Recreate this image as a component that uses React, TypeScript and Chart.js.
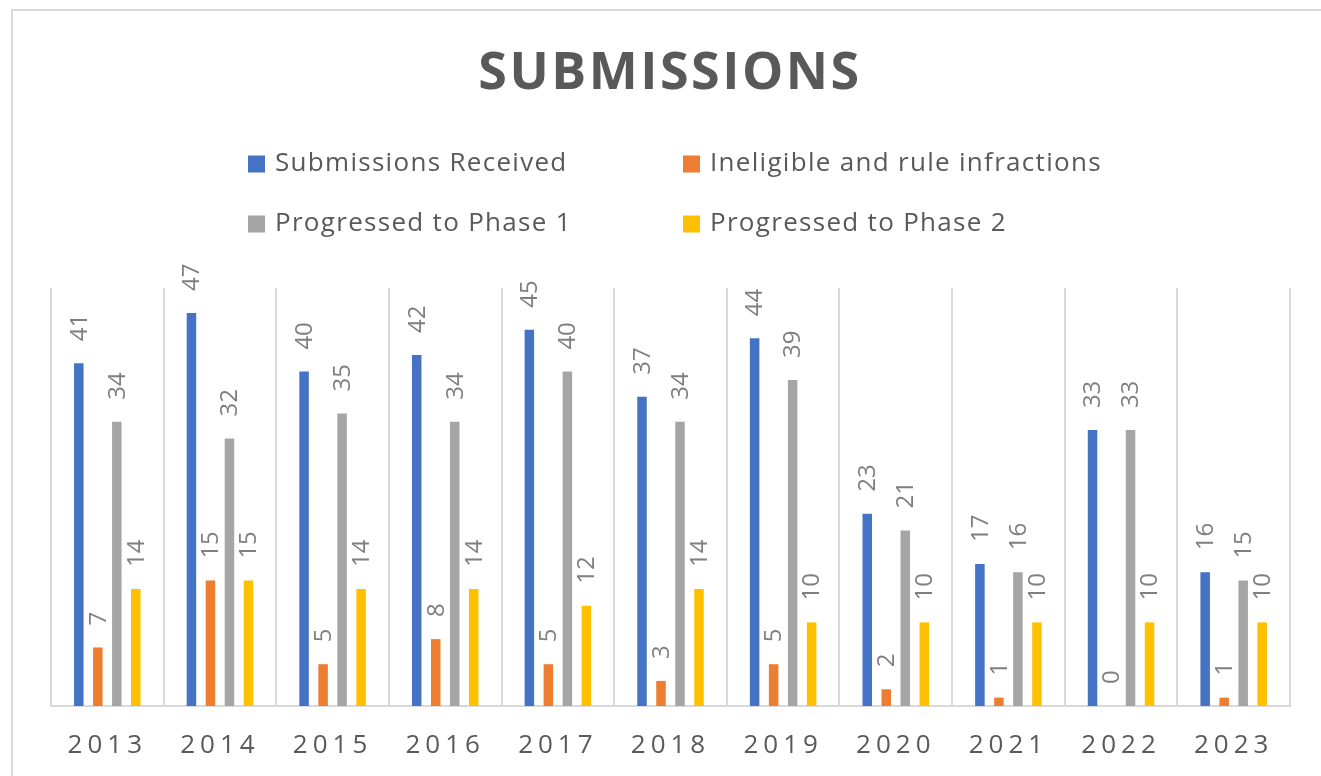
import React, { useEffect, useRef } from "react";
import { Chart, registerables } from "chart.js";

Chart.register(...registerables);

const TITLE = "SUBMISSIONS";
const years = ["2013", "2014", "2015", "2016", "2017", "2018", "2019", "2020", "2021", "2022", "2023"];
const submissionsReceived = [41, 47, 40, 42, 45, 37, 44, 23, 17, 33, 16];
const ineligible = [7, 15, 5, 8, 5, 3, 5, 2, 1, 0, 1];
const phase1 = [34, 32, 35, 34, 40, 34, 39, 21, 16, 33, 15];
const phase2 = [14, 15, 14, 14, 12, 14, 10, 10, 10, 10, 10];
const seriesNames = [
  "Submissions Received",
  "Ineligible and rule infractions",
  "Progressed to Phase 1",
  "Progressed to Phase 2",
];
const seriesColors = ["#4472C4", "#ED7D31", "#A5A5A5", "#FFC000"];

const FONT = "'Open Sans', 'Noto Sans', sans-serif";

const framePlugin = {
  id: "frame",
  beforeDraw(chart: any) {
    const ctx = chart.ctx;
    ctx.save();
    ctx.fillStyle = "#ffffff";
    ctx.fillRect(0, 0, chart.width, chart.height);
    ctx.strokeStyle = "#d9d9d9";
    ctx.lineWidth = 2;
    ctx.strokeRect(12, 10, chart.width + 100, chart.height + 100);
    ctx.restore();
    // letter spacing for the category axis labels
    (ctx as any).letterSpacing = "5px";
  },
  beforeDatasetsDraw(chart: any) {
    (chart.ctx as any).letterSpacing = "0px";
  },
  afterDatasetsDraw(chart: any) {
    const ctx = chart.ctx;
    ctx.save();
    ctx.font = `24px ${FONT}`;
    ctx.fillStyle = "#7f7f7f";
    ctx.textAlign = "left";
    ctx.textBaseline = "middle";
    chart.data.datasets.forEach((ds: any, di: number) => {
      const meta = chart.getDatasetMeta(di);
      meta.data.forEach((bar: any, i: number) => {
        ctx.save();
        ctx.translate(bar.x + 1, bar.y - 22);
        ctx.rotate(-Math.PI / 2);
        ctx.fillText(String(ds.data[i]), 0, 0);
        ctx.restore();
      });
    });
    ctx.restore();
  },
  afterDraw(chart: any) {
    const ctx = chart.ctx;
    ctx.save();
    // title
    ctx.fillStyle = "#595959";
    ctx.font = `bold 52px ${FONT}`;
    (ctx as any).letterSpacing = "2.5px";
    ctx.textAlign = "center";
    ctx.textBaseline = "middle";
    ctx.fillText(TITLE, 670, 74);
    // legend
    (ctx as any).letterSpacing = "1.3px";
    ctx.font = `26px ${FONT}`;
    ctx.textAlign = "left";
    const cols = [248, 683];
    const rows = [164, 224];
    chart.data.datasets.forEach((ds: any, i: number) => {
      const x = cols[i % 2];
      const y = rows[Math.floor(i / 2)];
      ctx.fillStyle = ds.backgroundColor;
      ctx.fillRect(x, y - 8.5, 17, 17);
      ctx.fillStyle = "#595959";
      ctx.fillText(ds.label, x + 27, y);
    });
    (ctx as any).letterSpacing = "0px";
    ctx.restore();
  },
};

export default function App() {
  const ref = useRef<HTMLCanvasElement | null>(null);
  useEffect(() => {
    if (!ref.current) return;
    const seriesData = [submissionsReceived, ineligible, phase1, phase2];
    const chart = new Chart(ref.current, {
      type: "bar",
      data: {
        labels: years,
        datasets: seriesData.map((d, i) => ({
          label: seriesNames[i],
          data: d,
          backgroundColor: seriesColors[i],
          categoryPercentage: 0.675,
          barPercentage: 0.5,
        })),
      },
      options: {
        animation: false,
        responsive: false,
        layout: { padding: { left: 51, right: 31, top: 288, bottom: 0 } },
        plugins: {
          legend: { display: false },
          title: { display: false },
          tooltip: { enabled: false },
        },
        scales: {
          x: {
            grid: { offset: true, color: "#d9d9d9", lineWidth: 2, drawTicks: false },
            border: { display: true, color: "#d9d9d9", width: 2 },
            ticks: {
              color: "#595959",
              font: { family: FONT, size: 26 },
              padding: 24,
              maxRotation: 0,
            },
            afterFit: (s: any) => {
              s.height = 70;
            },
          },
          y: {
            display: false,
            min: 0,
            max: 50,
          },
        },
      },
      plugins: [framePlugin],
    });
    return () => chart.destroy();
  }, []);
  return (
    <div style={{ position: "fixed", left: 0, top: 0, width: 1321, height: 776, background: "#fff" }}>
      <canvas ref={ref} width={1321} height={776} style={{ display: "block" }} />
    </div>
  );
}
